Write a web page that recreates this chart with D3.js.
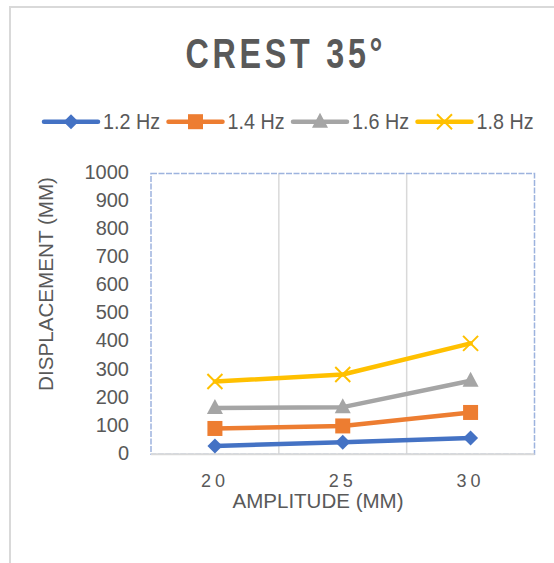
<!DOCTYPE html>
<html>
<head>
<meta charset="utf-8">
<script src="https://cdn.jsdelivr.net/npm/d3@7"></script>
<style>
  html, body { margin: 0; padding: 0; background: #fff; }
  svg { display: block; font-family: "Liberation Sans", Arial, sans-serif; }
</style>
</head>
<body>
<svg id="chart" width="554" height="563"></svg>
<script>
// ---- data ----
const categories = ["20", "25", "30"];
const seriesNames = ["1.2 Hz", "1.4 Hz", "1.6 Hz", "1.8 Hz"];
const hz12 = [30, 43, 58];
const hz14 = [92, 101, 149];
const hz16 = [165, 168, 262];
const hz18 = [259, 284, 395];
const yTicks = [0, 100, 200, 300, 400, 500, 600, 700, 800, 900, 1000];
const titleText = "CREST 35°";
const xTitle = "AMPLITUDE (MM)";
const yTitle = "DISPLACEMENT (MM)";

const seriesValues = [hz12, hz14, hz16, hz18];
const colors = ["#4472c4", "#ed7d31", "#a5a5a5", "#ffc000"];
const markers = ["diamond", "square", "triangle", "x"];

const svg = d3.select("#chart");
const textColor = "#595959";

// outer chart frame (extends past the crop on right/bottom)
svg.append("path")
  .attr("d", "M10,600 L10,7 L600,7")
  .attr("fill", "none").attr("stroke", "#d9d9d9").attr("stroke-width", 2);

// plot geometry
const plot = { left: 151, right: 534.5, top: 173.5, bottom: 454.3 };

const x = d3.scaleBand().domain(categories).range([plot.left, plot.right]);
const y = d3.scaleLinear().domain([0, 1000]).range([plot.bottom, plot.top]);

// vertical gridlines at category boundaries (interior)
const boundaries = categories.slice(1).map(c => x(c));
svg.append("g").selectAll("line").data(boundaries).join("line")
  .attr("x1", d => d).attr("x2", d => d)
  .attr("y1", plot.top).attr("y2", plot.bottom)
  .attr("stroke", "#d9d9d9").attr("stroke-width", 1.5);

// plot area border (dotted blue, selection style)
svg.append("rect")
  .attr("x", plot.left).attr("y", plot.top)
  .attr("width", plot.right - plot.left).attr("height", plot.bottom - plot.top)
  .attr("fill", "none").attr("stroke", "#9db3de").attr("stroke-width", 1.5)
  .attr("stroke-dasharray", "6,1.5");

// bottom axis line
svg.append("line")
  .attr("x1", plot.left).attr("x2", plot.right)
  .attr("y1", plot.bottom).attr("y2", plot.bottom)
  .attr("stroke", "#d9d9d9").attr("stroke-width", 2);

// y axis
const yAxis = svg.append("g")
  .attr("transform", `translate(${plot.left - 22},0)`)
  .call(d3.axisLeft(y).tickValues(yTicks).tickSize(0).tickPadding(0).tickFormat(d3.format("d")));
yAxis.select(".domain").remove();
yAxis.selectAll("text")
  .attr("fill", textColor).attr("font-size", 20)
  .attr("font-family", "'Liberation Sans', Arial, sans-serif")
  .attr("dy", "0.25em");

// x axis labels
const xAxis = svg.append("g")
  .attr("transform", `translate(0,${plot.bottom})`)
  .call(d3.axisBottom(x).tickSize(0).tickPadding(0));
xAxis.select(".domain").remove();
xAxis.selectAll("text")
  .attr("fill", textColor).attr("font-size", 18)
  .attr("font-family", "'Liberation Sans', Arial, sans-serif")
  .attr("letter-spacing", "4px")
  .attr("dy", null)
  .attr("y", 33);

// title: condensed bold with wide tracking
svg.append("g")
  .attr("transform", "translate(284,67.7) scale(0.75,1)")
  .append("text")
  .attr("x", 2.5).attr("y", 0)
  .attr("text-anchor", "middle")
  .attr("font-size", 43).attr("font-weight", "bold")
  .attr("letter-spacing", "5px")
  .attr("fill", textColor)
  .text(titleText);

// axis titles
svg.append("text")
  .attr("x", 318).attr("y", 507.5)
  .attr("text-anchor", "middle")
  .attr("font-size", 21).attr("fill", textColor)
  .attr("textLength", 171).attr("lengthAdjust", "spacingAndGlyphs")
  .text(xTitle);

svg.append("text")
  .attr("transform", "translate(52.7,284) rotate(-90)")
  .attr("text-anchor", "middle")
  .attr("font-size", 21).attr("fill", textColor)
  .attr("textLength", 214).attr("lengthAdjust", "spacingAndGlyphs")
  .text(yTitle);

// marker drawing
function drawMarker(g, type, color, cx, cy) {
  if (type === "diamond") {
    const r = 7.5;
    g.append("path").attr("d", `M${cx},${cy - r} L${cx + r},${cy} L${cx},${cy + r} L${cx - r},${cy} Z`)
      .attr("fill", color);
  } else if (type === "square") {
    const s = 15;
    g.append("rect").attr("x", cx - s / 2).attr("y", cy - s / 2).attr("width", s).attr("height", s)
      .attr("fill", color);
  } else if (type === "triangle") {
    const w = 16, h = 15;
    g.append("path").attr("d", `M${cx},${cy - h * 0.6} L${cx + w / 2},${cy + h * 0.4} L${cx - w / 2},${cy + h * 0.4} Z`)
      .attr("fill", color);
  } else if (type === "x") {
    const r = 7.5;
    g.append("path").attr("d", `M${cx - r},${cy - r} L${cx + r},${cy + r} M${cx - r},${cy + r} L${cx + r},${cy - r}`)
      .attr("stroke", color).attr("stroke-width", 2).attr("fill", "none");
  }
}

// series
const line = d3.line().x((d, i) => x(categories[i]) + x.bandwidth() / 2).y(d => y(d));
seriesValues.forEach((vals, si) => {
  const g = svg.append("g");
  g.append("path").datum(vals).attr("d", line)
    .attr("fill", "none").attr("stroke", colors[si]).attr("stroke-width", 4.5)
    .attr("stroke-linejoin", "round").attr("stroke-linecap", "round");
  vals.forEach((v, i) => drawMarker(g, markers[si], colors[si], x(categories[i]) + x.bandwidth() / 2, y(v)));
});

// legend
const legendStarts = [44, 168.5, 293, 417.5];
const legendY = 121.7;
seriesNames.forEach((name, si) => {
  const g = svg.append("g");
  const x0 = legendStarts[si];
  g.append("line").attr("x1", x0).attr("x2", x0 + 54).attr("y1", legendY).attr("y2", legendY)
    .attr("stroke", colors[si]).attr("stroke-width", 4.5).attr("stroke-linecap", "round");
  drawMarker(g, markers[si], colors[si], x0 + 27, legendY);
  g.append("text").attr("x", x0 + 59).attr("y", 128.5)
    .attr("font-size", 22).attr("fill", textColor)
    .attr("textLength", 57).attr("lengthAdjust", "spacingAndGlyphs")
    .text(name);
});
</script>
</body>
</html>
